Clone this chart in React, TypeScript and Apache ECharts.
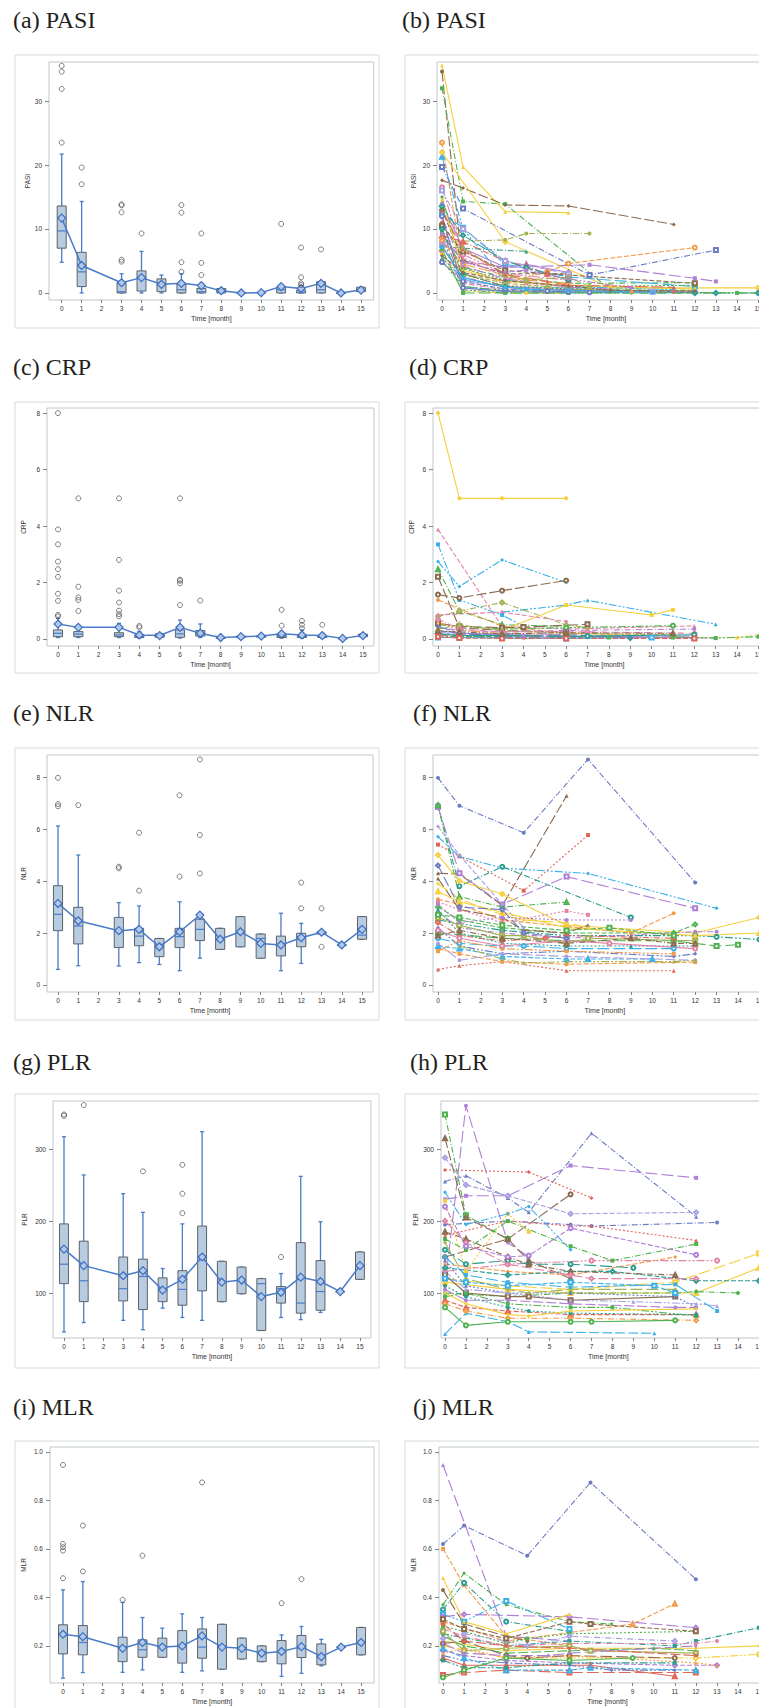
import React, { useEffect, useRef } from "react";
import * as echarts from "echarts";

// ---------- axes ----------
const monthTicks = [0, 1, 2, 3, 4, 5, 6, 7, 8, 9, 10, 11, 12, 13, 14, 15];
const months = [0, 1, 3, 4, 5, 6, 7, 8, 9, 10, 11, 12, 13, 14, 15];
const pasiTicks = [0, 10, 20, 30];
const crpTicks = [0, 2, 4, 6, 8];
const nlrTicks = [0, 2, 4, 6, 8];
const plrTicks = [100, 200, 300];
const mlrTicks = [0.2, 0.4, 0.6, 0.8, 1.0];

// ---------- box plot data: [low whisker, Q1, median, Q3, high whisker] ----------
const pasiBox = [
  [4.8, 7.0, 9.7, 13.6, 21.7], [0, 1.0, 3.3, 6.35, 14.3], [0, 0, 0.2, 1.6, 3.0], [0, 0.3, 2.3, 3.45, 6.5],
  [0, 0.2, 1.25, 2.2, 2.8], [0, 0, 0.5, 1.4, 3.0], [0, 0, 0.2, 0.7, 1.5], [0, 0, 0.3, 0.7, 0.7],
  [0, 0, 0, 0, 0], [0, 0, 0.05, 0.1, 0.1], [0, 0, 0.5, 0.9, 1.0], [0, 0, 0.1, 0.45, 0.7],
  [0, 0, 0.5, 1.75, 1.75], [0, 0, 0, 0, 0], [0.2, 0.2, 0.5, 0.9, 0.9],
];
const pasiMean = [11.7, 4.3, 1.6, 2.4, 1.35, 1.5, 1.15, 0.35, 0, 0.05, 1.0, 0.7, 1.5, 0, 0.45];
const pasiOut = [
  [0, 35.5], [0, 34.6], [0, 31.9], [0, 23.5], [1, 19.6], [1, 17.0], [3, 13.85], [3, 13.7], [3, 12.6], [3, 5.2],
  [3, 4.9], [4, 9.3], [6, 13.75], [6, 12.55], [6, 4.8], [6, 3.3], [7, 9.3], [7, 4.7], [7, 2.8], [11, 10.8],
  [12, 7.1], [12, 2.45], [12, 1.5], [12, 1.25], [13, 6.8],
];

const crpBox = [
  [0.05, 0.08, 0.2, 0.32, 0.73], [0.05, 0.08, 0.17, 0.26, 0.38], [0.05, 0.08, 0.14, 0.22, 0.55], [0.03, 0.05, 0.1, 0.14, 0.26],
  [0.05, 0.06, 0.1, 0.18, 0.18], [0.03, 0.06, 0.18, 0.32, 0.67], [0.05, 0.1, 0.2, 0.3, 0.53], [0.01, 0.02, 0.03, 0.04, 0.05],
  [0.04, 0.05, 0.07, 0.1, 0.12], [0.05, 0.06, 0.08, 0.12, 0.12], [0.03, 0.05, 0.1, 0.14, 0.22], [0.03, 0.05, 0.08, 0.14, 0.32],
  [0.03, 0.05, 0.07, 0.1, 0.2], [0.01, 0.01, 0.02, 0.02, 0.02], [0.08, 0.08, 0.1, 0.17, 0.17],
];
const crpMean = [0.53, 0.41, 0.41, 0.14, 0.12, 0.41, 0.2, 0.05, 0.08, 0.1, 0.18, 0.14, 0.12, 0.02, 0.12];
const crpOut = [
  [0, 8.0], [0, 3.88], [0, 3.35], [0, 2.74], [0, 2.47], [0, 2.2], [0, 1.6], [0, 1.35], [0, 0.85], [0, 0.8],
  [1, 4.98], [1, 1.85], [1, 1.47], [1, 1.38], [1, 0.99], [3, 4.98], [3, 2.8], [3, 1.71], [3, 1.29], [3, 1.0],
  [3, 0.88], [3, 0.8], [4, 0.46], [4, 0.41], [6, 4.98], [6, 2.1], [6, 2.06], [6, 1.97], [6, 1.2], [7, 1.36],
  [11, 1.03], [11, 0.47], [12, 0.64], [12, 0.5], [12, 0.38], [13, 0.5],
];

const nlrBox = [
  [0.6, 2.09, 2.72, 3.82, 6.12], [0.74, 1.58, 2.27, 2.99, 5.0], [0.73, 1.44, 2.05, 2.6, 3.17], [0.86, 1.51, 1.88, 2.18, 3.04],
  [0.79, 1.09, 1.54, 1.79, 1.79], [0.55, 1.44, 1.86, 2.18, 3.2], [1.03, 1.71, 2.14, 2.53, 2.7], [1.37, 1.37, 1.73, 2.18, 2.18],
  [1.47, 1.47, 2.05, 2.63, 2.63], [1.03, 1.03, 1.79, 1.96, 1.96], [0.55, 1.12, 1.56, 1.88, 2.76], [0.83, 1.47, 1.86, 1.99, 2.37],
  [1.96, 1.96, 2.0, 2.05, 2.05], [1.54, 1.54, 1.54, 1.54, 1.54], [1.76, 1.76, 1.92, 2.63, 2.63],
];
const nlrMean = [3.14, 2.47, 2.09, 2.14, 1.47, 2.05, 2.69, 1.76, 2.05, 1.6, 1.54, 1.82, 2.03, 1.54, 2.14];
const nlrOut = [
  [0, 7.97], [0, 6.96], [0, 6.88], [1, 6.92], [3, 4.55], [3, 4.49], [4, 5.86], [4, 3.63], [6, 7.3], [6, 4.17],
  [7, 8.68], [7, 5.77], [7, 4.29], [12, 3.94], [12, 2.95], [13, 2.95], [13, 1.47],
];

const plrBox = [
  [46, 113, 140, 196, 317], [59, 88, 117, 172, 264], [62, 89, 106, 150, 238], [49, 77, 123, 147, 212],
  [79, 88, 106, 121, 134], [66, 83, 105, 131, 196], [62, 103, 150, 193, 324], [88, 88, 115, 144, 144],
  [99, 99, 118, 136, 136], [48, 48, 113, 120, 120], [66, 86, 106, 109, 127], [63, 72, 86, 170, 262],
  [73, 76, 102, 145, 199], [102, 102, 102, 102, 102], [119, 119, 138, 157, 157],
];
const plrMean = [161, 138, 124, 131, 104, 119, 150, 115, 118, 95, 101, 122, 116, 102, 138];
const plrOut = [[0, 348], [0, 346], [1, 361], [4, 269], [6, 278], [6, 238], [6, 211], [11, 150]];

const mlrBox = [
  [0.067, 0.167, 0.245, 0.287, 0.431], [0.09, 0.163, 0.214, 0.284, 0.465], [0.091, 0.135, 0.195, 0.236, 0.379],
  [0.101, 0.153, 0.184, 0.225, 0.317], [0.153, 0.153, 0.197, 0.232, 0.273], [0.091, 0.129, 0.204, 0.263, 0.332],
  [0.097, 0.149, 0.195, 0.27, 0.317], [0.104, 0.104, 0.2, 0.289, 0.289], [0.146, 0.146, 0.19, 0.232, 0.232],
  [0.135, 0.135, 0.177, 0.2, 0.2], [0.074, 0.126, 0.177, 0.222, 0.245], [0.087, 0.152, 0.19, 0.243, 0.28],
  [0.118, 0.122, 0.152, 0.208, 0.227], [0.195, 0.195, 0.195, 0.195, 0.195], [0.163, 0.163, 0.211, 0.276, 0.276],
];
const mlrMean = [0.248, 0.238, 0.19, 0.214, 0.195, 0.2, 0.241, 0.195, 0.19, 0.17, 0.177, 0.197, 0.156, 0.195, 0.214];
const mlrOut = [
  [0, 0.946], [0, 0.62], [0, 0.607], [0, 0.593], [0, 0.479], [1, 0.696], [1, 0.507], [3, 0.39], [4, 0.572],
  [7, 0.874], [11, 0.376], [12, 0.475],
];

// ---------- individual patient trajectories: [month, value] ----------
const pasiLines = [
  [[0, 34.6], [1, 3], [3, 1], [6, 0.5], [12, 0.3]],
  [[0, 35.6], [1, 19.7], [3, 12.7], [6, 12.55]],
  [[0, 32], [1, 14.3], [3, 13.9], [8, 0.5], [12, 0.4]],
  [[0, 17.6], [1, 16.4], [3, 13.75], [6, 13.6], [11, 10.7]],
  [[0, 23.5], [1, 4], [3, 1.5], [5, 3.3], [6, 4.6], [12, 7.1]],
  [[0, 19.7], [1, 13.2], [7, 2.8], [13, 6.7]],
  [[0, 21.3], [1, 10], [3, 2], [6, 1], [11, 0.5]],
  [[0, 22], [3, 8], [8, 0.8], [12, 0.8], [15, 0.8]],
  [[0, 8], [3, 8.3], [4, 9.3], [7, 9.3]],
  [[0, 7.3], [1, 7], [4, 6.5]],
  [[0, 9], [1, 5], [3, 4], [7, 4.4], [12, 2.3], [13, 1.8]],
  [[0, 15], [1, 4], [3, 2.5], [6, 1.5], [12, 1.6]],
  [[0, 16.5], [1, 6], [3, 3], [6, 2]],
  [[0, 12.4], [1, 10.2], [3, 4.5], [6, 2.5], [12, 1]],
  [[0, 14], [1, 7], [3, 4], [4, 4.5], [6, 3.2]],
  [[0, 13], [1, 5], [3, 3], [5, 3], [6, 3]],
  [[0, 11], [1, 2.5], [3, 0.8], [6, 0.5], [11, 0.2], [12, 0.2]],
  [[0, 10], [1, 1], [3, 0.3], [4, 0.2], [6, 0]],
  [[0, 9.5], [1, 3.8], [3, 2], [6, 1], [12, 1.2]],
  [[0, 8.8], [1, 0.5], [3, 0], [6, 0], [9, 0], [12, 0]],
  [[0, 8.2], [1, 4.5], [3, 2.8], [4, 2], [6, 1.5]],
  [[0, 7.5], [1, 2], [3, 1], [6, 0.3], [10, 0.2]],
  [[0, 7], [1, 3], [3, 1.5], [5, 1], [7, 0.5]],
  [[0, 6.5], [1, 1.5], [3, 0.5], [6, 0.3], [12, 0.2]],
  [[0, 6], [1, 0.3], [3, 0], [4, 0], [6, 0]],
  [[0, 5.5], [1, 2.2], [3, 1], [6, 0.8], [11, 0.8]],
  [[0, 5], [1, 1], [3, 0.4], [6, 0.2], [15, 0]],
  [[0, 11.8], [1, 4.2], [3, 2.2], [4, 1.8], [6, 0.9], [8, 0.6]],
  [[0, 12], [1, 0.8], [3, 0.2], [7, 0.1], [12, 0.1]],
  [[0, 10.5], [1, 6.5], [3, 3.5], [6, 2.8], [12, 1.5]],
  [[0, 9], [1, 8], [3, 5], [4, 4.2], [5, 3], [6, 2]],
  [[0, 13.5], [1, 9], [3, 5], [4, 4], [6, 2]],
  [[0, 8.5], [1, 2.8], [3, 1.2], [6, 0.6], [9, 0.2], [13, 0]],
  [[0, 7.8], [1, 5.5], [3, 2.5], [4, 1.5], [6, 1]],
  [[0, 6.8], [1, 0], [3, 0], [6, 0], [14, 0], [15, 0]],
  [[0, 14.5], [1, 3.5], [3, 1.8], [6, 1.2], [12, 0.6]],
  [[0, 4.8], [1, 1.8], [3, 0.6], [5, 0.3], [6, 0.2]],
  [[0, 16], [1, 10], [3, 5], [6, 3]],
  [[1, 7], [3, 3], [4, 2], [6, 2.5], [7, 1]],
  [[0, 10], [1, 3], [3, 1], [12, 0], [13, 0], [15, 0]],
  [[0, 9.2], [1, 4.8], [3, 3.2], [4, 3.6], [6, 2.2], [9, 0.8]],
  [[0, 12.8], [1, 6.8], [3, 2.9], [5, 1.8], [6, 1.2], [11, 0.9]],
  [[0, 7.2], [1, 2.4], [3, 0.9], [4, 0.6], [6, 0.4], [10, 0.1]],
  [[0, 5.8], [1, 3.2], [3, 1.9], [6, 1.1], [8, 0.4], [12, 0.3]],
];
const pasiColors = [3, 11, 9, 3, 8, 0, 6, 11, 5, 2, 4, 9, 7, 6, 4, 3, 1, 0, 9, 2, 8, 10, 5, 7, 11, 6, 9, 4, 0, 3, 1, 2, 8, 7, 9, 11, 0, 10, 5, 2, 4, 1, 6, 3];

const crpLines = [
  [[0, 8], [1, 4.98], [3, 4.98], [6, 4.98]],
  [[0, 3.88], [3, 0.44], [6, 0.35], [12, 0.46]],
  [[0, 3.35], [1, 1.38], [3, 0.85], [4, 0.45]],
  [[0, 2.74], [1, 1.86], [3, 2.8], [6, 2.0]],
  [[0, 1.57], [1, 1.45], [3, 1.71], [6, 2.07]],
  [[0, 2.2], [1, 0.4], [3, 0.3], [6, 0.25]],
  [[0, 2.47], [1, 0.99], [3, 0.5], [6, 0.45]],
  [[0, 0.8], [1, 0.99], [3, 1.29], [6, 0.5], [7, 0.4]],
  [[0, 1.38], [3, 0.45], [6, 0.2], [11, 0.1]],
  [[3, 0.95], [6, 1.2], [7, 1.37], [13, 0.52]],
  [[3, 0.3], [6, 1.2], [10, 0.85], [11, 1.03]],
  [[0, 0.85], [3, 0.95], [6, 0.62]],
  [[0, 0.5], [3, 0.35], [6, 0.4], [11, 0.47]],
  [[0, 0.55], [1, 0.45], [3, 0.4], [4, 0.42], [7, 0.52]],
  [[0, 0.3], [1, 0.2], [3, 0.15], [6, 0.1], [12, 0.05]],
  [[0, 0.2], [1, 0.1], [3, 0.08], [6, 0.05], [9, 0.03], [12, 0.03]],
  [[0, 0.4], [1, 0.3], [3, 0.25], [6, 0.3], [12, 0.35]],
  [[0, 0.15], [1, 0.05], [3, 0.05], [4, 0.05], [6, 0.03]],
  [[0, 0.1], [1, 0.08], [3, 0.1], [6, 0.1], [8, 0.05], [11, 0.05]],
  [[0, 0.6], [1, 0.3], [3, 0.2], [6, 0.15], [7, 0.2]],
  [[0, 0.25], [1, 0.15], [3, 0.2], [5, 0.12], [6, 0.1], [12, 0.1]],
  [[0, 0.05], [1, 0.05], [3, 0.03], [6, 0.02], [10, 0.05]],
  [[0, 0.35], [1, 0.5], [3, 0.3], [6, 0.2], [11, 0.15]],
  [[0, 0.7], [1, 0.35], [3, 0.25], [7, 0.25], [12, 0.2]],
  [[0, 0.12], [1, 0.2], [3, 0.15], [4, 0.1], [6, 0.08], [13, 0.03]],
  [[12, 0.05], [14, 0.05], [15, 0.15]],
  [[11, 0.08], [13, 0.03], [15, 0.08]],
  [[0, 0.45], [1, 0.2], [3, 0.1], [6, 0.15], [9, 0.05]],
  [[0, 0.18], [1, 0.12], [3, 0.12], [6, 0.08], [7, 0.1], [12, 0.15]],
  [[0, 0.08], [1, 0.03], [3, 0.02], [6, 0.02], [12, 0.02]],
  [[0, 0.28], [1, 0.25], [3, 0.18], [6, 0.22], [11, 0.2]],
];
const crpColors = [11, 7, 6, 6, 3, 3, 9, 5, 8, 6, 11, 7, 9, 3, 0, 2, 4, 1, 9, 8, 10, 6, 5, 7, 4, 11, 9, 0, 2, 1, 3];

const nlrLines = [
  [[0, 7.97], [1, 6.9], [4, 5.86], [7, 8.68], [12, 3.94]],
  [[0, 4.3], [1, 4.27], [3, 3.06], [6, 7.28]],
  [[0, 5.4], [1, 4.95], [4, 3.63], [7, 5.77]],
  [[0, 5.7], [1, 4.95], [3, 4.5], [7, 4.29], [13, 2.95]],
  [[0, 6.9], [1, 3.8], [3, 4.55], [9, 2.6]],
  [[0, 6.85], [1, 4.3], [3, 3.1], [6, 4.17], [12, 2.95]],
  [[0, 6.92], [1, 3.4], [3, 3.0], [6, 3.19]],
  [[0, 5], [1, 4], [3, 3.5], [6, 2.3], [12, 2.0], [15, 2.6]],
  [[0, 3.3], [1, 3.1], [3, 2.5], [9, 2.0], [11, 2.76]],
  [[0, 0.6], [1, 0.74], [3, 0.9], [6, 0.55], [11, 0.55]],
  [[0, 1.4], [1, 1.2], [3, 0.9], [6, 0.8], [12, 0.88]],
  [[0, 6.1], [1, 5.0], [3, 3.1], [4, 2.2]],
  [[0, 2.5], [3, 2.1], [6, 1.9], [12, 1.9], [13, 1.85], [15, 1.75]],
  [[0, 2], [3, 1.8], [6, 1.7], [11, 1.7], [13, 1.5], [14, 1.55]],
  [[0, 3.6], [1, 3.2], [3, 2.8], [6, 2.2], [12, 1.9], [15, 2.0]],
  [[0, 3], [1, 2.5], [3, 2.2], [6, 2.0], [11, 2.0], [12, 2.33]],
  [[0, 2.8], [1, 2.2], [3, 2.0], [6, 1.8], [12, 2.05], [13, 2.05]],
  [[0, 4.1], [1, 2.9], [3, 2.6], [4, 2.1], [6, 2.0], [7, 2.3]],
  [[0, 3.2], [1, 2.9], [3, 2.4], [6, 2.85], [7, 2.7]],
  [[0, 2.2], [1, 1.5], [3, 1.2], [6, 1.3], [11, 1.1], [12, 1.2]],
  [[0, 1.8], [1, 1.6], [3, 1.5], [4, 1.5], [6, 1.4], [11, 1.4]],
  [[0, 2.6], [1, 2.3], [3, 1.9], [4, 1.9], [6, 1.6], [7, 1.8], [12, 1.7]],
  [[0, 1.5], [1, 1.4], [3, 1.1], [6, 1.0], [7, 1.0], [10, 1.0]],
  [[0, 2.4], [1, 1.9], [3, 1.7], [5, 1.8], [6, 1.9], [11, 1.8]],
  [[0, 1.6], [1, 0.95], [3, 1.2], [6, 1.1], [12, 0.95]],
  [[0, 2.9], [1, 2.0], [3, 1.6], [6, 1.5], [9, 1.5], [12, 1.5]],
  [[0, 1.3], [1, 1.7], [3, 1.4], [6, 1.3], [11, 1.2]],
  [[0, 3.9], [1, 3.3], [3, 2.7], [4, 2.5], [6, 2.4], [7, 2.2]],
  [[0, 2.1], [1, 1.8], [3, 1.5], [6, 1.7], [8, 1.6], [12, 1.4]],
  [[0, 2.7], [1, 2.6], [3, 2.3], [6, 2.1], [8, 2.2], [11, 1.9]],
  [[0, 1.9], [1, 2.1], [3, 1.8], [6, 1.6], [9, 1.8], [11, 1.6], [12, 1.6]],
  [[0, 4.6], [1, 3.0], [3, 2.9], [4, 2.0], [6, 1.8]],
  [[0, 3.1], [1, 2.4], [3, 2.6], [6, 2.5], [9, 2.5]],
  [[1, 1.5], [3, 1.0], [4, 0.85], [6, 0.9], [11, 0.9], [12, 0.95]],
];
const nlrColors = [0, 3, 1, 6, 2, 4, 9, 11, 8, 1, 8, 10, 2, 9, 11, 9, 4, 3, 7, 0, 6, 5, 6, 1, 10, 2, 8, 11, 7, 9, 3, 0, 4, 5];

const plrLines = [
  [[0, 110], [1, 360], [3, 170], [4, 150]],
  [[0, 255], [1, 263], [3, 232], [4, 212], [7, 322], [12, 206]],
  [[0, 230], [1, 235], [3, 235], [6, 277], [12, 260]],
  [[0, 271], [4, 268], [7, 232]],
  [[0, 150], [3, 175], [6, 237]],
  [[0, 348], [1, 208], [3, 175]],
  [[0, 315], [1, 205], [3, 175], [4, 145], [6, 120]],
  [[0, 288], [1, 250], [3, 235], [6, 210], [12, 212]],
  [[0, 195], [3, 200], [6, 195], [7, 193], [13, 198]],
  [[0, 180], [3, 200], [6, 193], [7, 193], [12, 173]],
  [[0, 175], [1, 160], [3, 200], [6, 165], [8, 145], [12, 168]],
  [[0, 140], [3, 130], [6, 125], [11, 150]],
  [[0, 130], [3, 140], [7, 145], [13, 145]],
  [[0, 120], [3, 110], [6, 105], [11, 115], [15, 155]],
  [[0, 115], [3, 105], [6, 100], [12, 100], [15, 135]],
  [[0, 135], [3, 125], [6, 130], [8, 130], [12, 117], [15, 117]],
  [[0, 100], [3, 95], [6, 100], [11, 100], [12, 102], [14, 100]],
  [[0, 43], [1, 72], [3, 60], [4, 46], [10, 44]],
  [[0, 228], [1, 130], [3, 210], [4, 185]],
  [[0, 240], [1, 195], [3, 210], [4, 220], [6, 160]],
  [[0, 160], [1, 140], [3, 145], [4, 140], [6, 140], [9, 135]],
  [[0, 125], [1, 100], [3, 95], [4, 95], [6, 90], [11, 95]],
  [[0, 90], [1, 80], [3, 75], [6, 70], [12, 70]],
  [[0, 85], [1, 75], [3, 65], [6, 65], [12, 62]],
  [[0, 105], [1, 90], [3, 90], [6, 85], [11, 80], [12, 80]],
  [[0, 145], [1, 110], [3, 100], [6, 100], [11, 95], [12, 80]],
  [[0, 95], [1, 100], [3, 85], [6, 80], [8, 80], [12, 68]],
  [[0, 170], [1, 120], [3, 105], [4, 100], [6, 105], [11, 105]],
  [[0, 80], [1, 55], [3, 60], [6, 60], [7, 60], [11, 62]],
  [[0, 120], [1, 115], [3, 110], [6, 115], [10, 110], [11, 100]],
  [[0, 185], [1, 175], [3, 150], [4, 140], [6, 130], [11, 125]],
  [[0, 200], [1, 170], [3, 140], [6, 125], [7, 120], [12, 120]],
  [[0, 110], [1, 95], [3, 80], [4, 75], [6, 72], [12, 70]],
  [[0, 130], [1, 105], [3, 100], [6, 90], [9, 88], [12, 85], [13, 82]],
  [[0, 150], [1, 125], [3, 115], [6, 108], [11, 112], [13, 75]],
  [[0, 100], [1, 85], [3, 70], [4, 68], [6, 75], [12, 78]],
  [[0, 220], [1, 165], [3, 150], [4, 152], [6, 190], [12, 153]],
];
const plrColors = [4, 0, 4, 1, 3, 9, 3, 10, 0, 1, 9, 8, 7, 11, 11, 2, 9, 6, 11, 6, 2, 3, 1, 8, 4, 0, 9, 5, 9, 6, 3, 7, 2, 10, 6, 11, 4];

const mlrLines = [
  [[0, 0.62], [1, 0.696], [4, 0.572], [7, 0.874], [12, 0.475]],
  [[0, 0.946], [3, 0.24], [6, 0.22]],
  [[0, 0.6], [1, 0.45], [3, 0.24], [6, 0.2]],
  [[0, 0.37], [1, 0.5], [3, 0.37], [6, 0.3], [8, 0.29]],
  [[0, 0.35], [1, 0.46], [3, 0.3], [6, 0.26]],
  [[0, 0.33], [1, 0.3], [3, 0.385], [6, 0.27]],
  [[0, 0.3], [3, 0.22], [9, 0.29], [11, 0.374]],
  [[0, 0.32], [1, 0.33], [6, 0.32], [12, 0.275]],
  [[0, 0.43], [1, 0.29], [3, 0.24], [4, 0.22]],
  [[0, 0.48], [1, 0.3], [3, 0.25], [6, 0.33]],
  [[0, 0.25], [3, 0.2], [6, 0.22], [11, 0.2], [12, 0.22], [15, 0.275]],
  [[0, 0.22], [3, 0.18], [6, 0.19], [12, 0.19], [15, 0.2]],
  [[0, 0.2], [3, 0.15], [6, 0.15], [12, 0.15], [15, 0.165]],
  [[0, 0.08], [1, 0.09], [3, 0.1], [6, 0.09], [12, 0.09]],
  [[0, 0.15], [1, 0.12], [3, 0.12], [7, 0.12], [11, 0.075]],
  [[0, 0.18], [1, 0.16], [3, 0.14], [6, 0.13], [11, 0.12], [13, 0.12]],
  [[0, 0.27], [1, 0.24], [3, 0.2], [6, 0.21], [12, 0.21], [13, 0.22]],
  [[0, 0.24], [1, 0.2], [3, 0.17], [6, 0.18], [10, 0.19], [12, 0.18]],
  [[0, 0.28], [1, 0.26], [3, 0.21], [4, 0.23], [6, 0.25], [12, 0.26]],
  [[0, 0.16], [1, 0.14], [3, 0.13], [6, 0.12], [8, 0.1], [11, 0.1]],
  [[0, 0.21], [1, 0.22], [3, 0.16], [4, 0.15], [6, 0.16], [11, 0.15]],
  [[0, 0.26], [1, 0.18], [3, 0.19], [6, 0.2], [7, 0.18], [12, 0.17]],
  [[0, 0.19], [1, 0.15], [3, 0.1], [6, 0.1], [7, 0.11], [12, 0.1]],
  [[0, 0.23], [1, 0.25], [3, 0.22], [4, 0.2], [6, 0.24], [11, 0.22]],
  [[0, 0.29], [1, 0.22], [3, 0.2], [6, 0.19], [12, 0.16]],
  [[0, 0.17], [1, 0.19], [3, 0.15], [6, 0.16], [12, 0.13], [13, 0.12]],
  [[0, 0.14], [1, 0.11], [3, 0.11], [6, 0.13], [11, 0.13]],
  [[0, 0.21], [1, 0.17], [3, 0.16], [5, 0.16], [6, 0.17], [12, 0.2]],
  [[0, 0.07], [1, 0.1], [3, 0.15], [6, 0.14], [9, 0.15]],
  [[0, 0.31], [1, 0.27], [3, 0.23], [6, 0.3], [7, 0.29], [12, 0.26]],
];
const mlrColors = [0, 4, 8, 9, 2, 6, 8, 4, 3, 11, 2, 11, 11, 1, 1, 4, 7, 9, 9, 0, 3, 5, 6, 10, 1, 8, 2, 4, 9, 3];

// ---------- styles ----------
const palette = ["#6b7bc4", "#e0665a", "#2a9d8f", "#8c6a4e", "#b07fd6", "#a3b152", "#3bb0e8", "#e284a8", "#f39c4a", "#4fb34f", "#a8a0e0", "#f5cf3f"];
const dashList: any[] = ["solid", [5, 2], [6, 2, 1, 2], [10, 3], [2, 2], [8, 2, 2, 2, 2, 2], [12, 4]];
const colorDash = [2, 4, 2, 3, 6, 2, 5, 1, 1, 2, 1, 0];
const symbolList = ["circle", "triangle", "rect", "diamond", "emptyCircle", "emptyRect", "emptyTriangle", "emptyDiamond"];
const FONT = "'Liberation Sans', Arial, sans-serif";
const SERIF = "'Liberation Serif', 'Times New Roman', serif";
const BLUE = "#4a7cc8";

const rows = [
  { t: ["(a) PASI", "(b) PASI"], trx: 402, yName: "PASI", titleY: 20, boxTop: 55, boxBottom: 328, top: 62, bottom: 300, yMin: -1.1, yMax: 36.1, ticks: pasiTicks, dec: 0, L: [49, 61.7, 19.95], R: [437, 442, 21.07], lgap: 15, rgap: 20, box: pasiBox, mean: pasiMean, out: pasiOut, lines: pasiLines, colors: pasiColors },
  { t: ["(c) CRP", "(d) CRP"], trx: 409, yName: "CRP", titleY: 367, boxTop: 402, boxBottom: 673, top: 408, bottom: 646, yMin: -0.25, yMax: 8.18, ticks: crpTicks, dec: 0, L: [47, 58, 20.33], R: [433, 438, 21.36], lgap: 20, rgap: 18, box: crpBox, mean: crpMean, out: crpOut, lines: crpLines, colors: crpColors },
  { t: ["(e) NLR", "(f) NLR"], trx: 413, yName: "NLR", titleY: 713, boxTop: 748, boxBottom: 1020, top: 755, bottom: 992, yMin: -0.27, yMax: 8.85, ticks: nlrTicks, dec: 0, L: [47, 58, 20.27], R: [433, 438, 21.43], lgap: 20, rgap: 16, box: nlrBox, mean: nlrMean, out: nlrOut, lines: nlrLines, colors: nlrColors },
  { t: ["(g) PLR", "(h) PLR"], trx: 410, yName: "PLR", titleY: 1062, boxTop: 1094, boxBottom: 1368, top: 1101, bottom: 1338, yMin: 37.5, yMax: 366.7, ticks: plrTicks, dec: 0, L: [53, 64, 19.73], R: [441, 445, 20.93], lgap: 25, rgap: 22, box: plrBox, mean: plrMean, out: plrOut, lines: plrLines, colors: plrColors },
  { t: ["(i) MLR", "(j) MLR"], trx: 413, yName: "MLR", titleY: 1407, boxTop: 1441, boxBottom: 1720, top: 1447, bottom: 1683, yMin: 0.047, yMax: 1.02, ticks: mlrTicks, dec: 1, L: [50, 63, 19.87], R: [439, 443, 21.07], lgap: 23, rgap: 22, box: mlrBox, mean: mlrMean, out: mlrOut, lines: mlrLines, colors: mlrColors },
];

function boxRender(_params: any, api: any) {
  const x = api.value(0);
  const lo = api.coord([x, api.value(1)]);
  const q1 = api.coord([x, api.value(2)]);
  const md = api.coord([x, api.value(3)]);
  const q3 = api.coord([x, api.value(4)]);
  const hi = api.coord([x, api.value(5)]);
  const w = api.size([0.45, 0])[0];
  const cw = w * 0.45;
  const cx = lo[0];
  const ws = { stroke: BLUE, lineWidth: 1.3 };
  return {
    type: "group",
    children: [
      { type: "line", shape: { x1: cx, y1: hi[1], x2: cx, y2: q3[1] }, style: ws },
      { type: "line", shape: { x1: cx, y1: q1[1], x2: cx, y2: lo[1] }, style: ws },
      { type: "line", shape: { x1: cx - cw / 2, y1: hi[1], x2: cx + cw / 2, y2: hi[1] }, style: ws },
      { type: "line", shape: { x1: cx - cw / 2, y1: lo[1], x2: cx + cw / 2, y2: lo[1] }, style: ws },
      { type: "rect", shape: { x: cx - w / 2, y: q3[1], width: w, height: Math.max(q1[1] - q3[1], 0.5) }, style: { fill: "#b8cce1", stroke: "#5e6166", lineWidth: 1 } },
      { type: "line", shape: { x1: cx - w / 2, y1: md[1], x2: cx + w / 2, y2: md[1] }, style: { stroke: BLUE, lineWidth: 1.2 } },
    ],
  };
}

export default function App() {
  const ref = useRef<HTMLDivElement>(null);
  useEffect(() => {
    const chart = echarts.init(ref.current!, null, { renderer: "svg" });
    const grid: any[] = [];
    const xAxis: any[] = [];
    const yAxis: any[] = [];
    const series: any[] = [];
    const graphic: any[] = [];

    rows.forEach((r, ri) => {
      for (let side = 0; side < 2; side++) {
        const gi = ri * 2 + side;
        const [frame, zero, sp] = side === 0 ? r.L : r.R;
        const xMin = -(zero - frame) / sp;
        const xMax = side === 0 ? 15 - xMin : 15.8;
        const width = (xMax - xMin) * sp;
        grid.push({
          left: frame, top: r.top, width, height: r.bottom - r.top,
          show: true, borderColor: "#bfc8ce", borderWidth: 1, backgroundColor: "#fff",
        });
        xAxis.push({
          gridIndex: gi, type: "value", min: xMin, max: xMax,
          axisLine: { show: false, onZero: false }, splitLine: { show: false },
          axisTick: { show: true, length: 3, lineStyle: { color: "#666", width: 0.8 }, customValues: monthTicks },
          axisLabel: { fontSize: 6.5, color: "#333", margin: 5, fontFamily: FONT, customValues: monthTicks, formatter: (v: number) => String(Math.round(v)) },
          name: "Time [month]", nameLocation: "middle", nameGap: 15,
          nameTextStyle: { fontSize: 7, color: "#333", fontFamily: FONT },
        });
        yAxis.push({
          gridIndex: gi, type: "value", min: r.yMin, max: r.yMax,
          axisLine: { show: false, onZero: false }, splitLine: { show: false },
          axisTick: { show: true, length: 4, lineStyle: { color: "#666", width: 0.8 }, customValues: r.ticks },
          axisLabel: { fontSize: 6.5, color: "#333", margin: 7, fontFamily: FONT, customValues: r.ticks, formatter: (v: number) => v.toFixed(r.dec) },
          name: r.yName, nameLocation: "middle", nameGap: side === 0 ? r.lgap : r.rgap,
          nameTextStyle: { fontSize: 6.5, color: "#333", fontFamily: FONT },
        });

        if (side === 0) {
          series.push({
            type: "custom", xAxisIndex: gi, yAxisIndex: gi, renderItem: boxRender, silent: true, z: 2,
            data: months.map((m, i) => [m, ...r.box[i]]), encode: { x: 0, y: [1, 2, 3, 4, 5] },
          });
          series.push({
            type: "line", xAxisIndex: gi, yAxisIndex: gi, silent: true, z: 3,
            data: months.map((m, i) => [m, r.mean[i]]),
            symbol: "diamond", symbolSize: 8,
            lineStyle: { color: BLUE, width: 1.5 },
            itemStyle: { color: "#b3c8ea", borderColor: "#3a6fc0", borderWidth: 1.2 },
          });
          series.push({
            type: "scatter", xAxisIndex: gi, yAxisIndex: gi, silent: true, z: 4,
            data: r.out, symbol: "circle", symbolSize: 5,
            itemStyle: { color: "rgba(255,255,255,0)", borderColor: "#505050", borderWidth: 0.9 },
          });
        } else {
          r.lines.forEach((ln, i) => {
            const ci = r.colors[i];
            const color = palette[ci];
            const dash = i < 12 ? dashList[colorDash[ci]] : dashList[i % dashList.length];
            series.push({
              type: "line", xAxisIndex: gi, yAxisIndex: gi, silent: true, z: 2,
              data: ln, symbol: symbolList[i % symbolList.length], symbolSize: 4,
              lineStyle: { color, width: 1.1, type: dash },
              itemStyle: { color },
            });
          });
        }
      }

      // outer frames
      graphic.push({ type: "rect", shape: { x: 15, y: r.boxTop, width: 364, height: r.boxBottom - r.boxTop }, style: { fill: "none", stroke: "#d6dadd", lineWidth: 1 }, silent: true });
      graphic.push({ type: "rect", shape: { x: 405, y: r.boxTop, width: 420, height: r.boxBottom - r.boxTop }, style: { fill: "none", stroke: "#d6dadd", lineWidth: 1 }, silent: true });
      // titles
      [13, r.trx].forEach((tx, k) => {
        graphic.push({
          type: "text", x: tx, y: r.titleY, silent: true,
          style: { text: r.t[k], font: `24px ${SERIF}`, fill: "#231f20", align: "left", verticalAlign: "middle", textAlign: "left", textVerticalAlign: "middle" },
        });
      });
    });

    chart.setOption({ animation: false, backgroundColor: "#fff", grid, xAxis, yAxis, series, graphic });
    return () => chart.dispose();
  }, []);
  return (
    <div style={{ position: "absolute", left: 0, top: 0, width: 759, height: 1708, overflow: "hidden", background: "#fff" }}>
      <div ref={ref} style={{ position: "absolute", left: 0, top: 0, width: 820, height: 1708 }} />
    </div>
  );
}
